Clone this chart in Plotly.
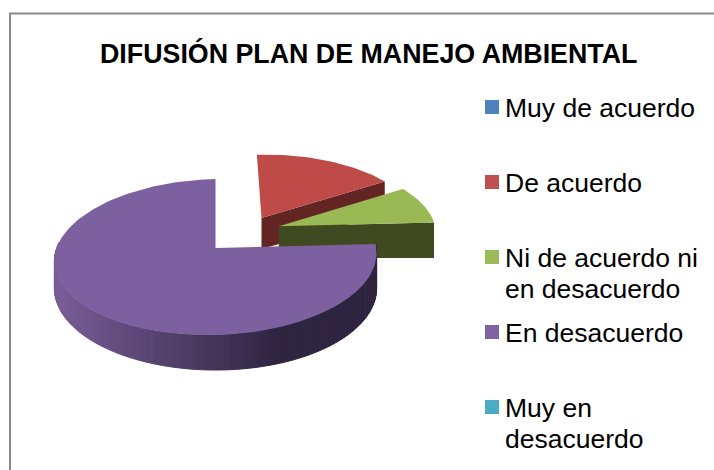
import math
import plotly.graph_objects as go

categories = ["Muy de acuerdo", "De acuerdo", "Ni de acuerdo ni en desacuerdo", "En desacuerdo", "Muy en desacuerdo"]
legend_lines = [["Muy de acuerdo"], ["De acuerdo"], ["Ni de acuerdo ni", "en desacuerdo"], ["En desacuerdo"], ["Muy en", "desacuerdo"]]
values = [0, 2, 1, 9, 0]
pull = [0, 0.492, 0.489, 0, 0]
pull_dir_deg = [0, 37.6, 56.6, 0, 0]
top_colors = ["#4F81BD", "#BE4B48", "#98B954", "#7D60A0", "#4BACC6"]
side_colors = ["#2A4A70", "#632523", "#3F4A21", "#3A2E50", "#25606F"]
legend_colors = ["#4F81BD", "#C0504D", "#9BBB59", "#8064A2", "#4BACC6"]
title = "DIFUSIÓN PLAN DE MANEJO AMBIENTAL"

W, H = 714, 470
CX, CY = 215.5, 248
R, RS, K, DEPTH, SHEAR = 160, 77, 0.115, 31, 0.025
FONT = "Liberation Sans"
LEGEND_SIZE = 26.5
TITLE_SIZE = 26.8


def proj(X, Y, low=False):
    w = 1 + K * Y
    x = CX + R * X / w
    y = CY - RS * Y / w
    if low:
        y += DEPTH / w
    else:
        y -= SHEAR * (x - CX)
    return x, y


def pt(a, r, i):
    d = math.radians(pull_dir_deg[i])
    return (pull[i] * math.sin(d) + r * math.sin(a), pull[i] * math.cos(d) + r * math.cos(a))


def poly(points, color, name=None, edge=0):
    xs = [p[0] for p in points] + [points[0][0]]
    ys = [p[1] for p in points] + [points[0][1]]
    return go.Scatter(x=xs, y=ys, mode="lines", fill="toself", fillcolor=color,
                      line=dict(width=edge, color=color), showlegend=False, name=name, hoverinfo="name")


def mix(a, b, t):
    return "rgb(%d,%d,%d)" % tuple(round(a[i] + (b[i] - a[i]) * t) for i in range(3))


fig = go.Figure()
total = sum(values)
cum = 0
for i, v in enumerate(values):
    start = cum / total * 2 * math.pi
    cum += v
    end = cum / total * 2 * math.pi
    if v == 0:
        continue
    n = max(4, int(v * 20))
    arc = [start + (end - start) * j / n for j in range(n + 1)]
    top = [proj(*pt(a, 1, i)) for a in arc]
    apex = proj(*pt(0, 0, i))
    lapex = proj(*pt(0, 0, i), low=True)
    name = categories[i]
    if i == 3:
        # outer wall: horizontal light-to-dark shading drawn as small facets
        light, dark = (120, 92, 150), (46, 37, 64)
        for j in range(n):
            a0, a1 = arc[j], arc[j + 1]
            if math.cos((a0 + a1) / 2) > 0.12:
                continue
            p = [proj(*pt(a0, 1, i)), proj(*pt(a1, 1, i)),
                 proj(*pt(a1, 1, i), low=True), proj(*pt(a0, 1, i), low=True)]
            t = min(1, max(0, (p[0][0] - 60) / 220))
            fig.add_trace(poly(p, mix(light, dark, t), name, edge=1))
    else:
        edge = proj(*pt(end, 1, i))
        ledge = proj(*pt(end, 1, i), low=True)
        fig.add_trace(poly([apex, edge, ledge, lapex], side_colors[i], name))
    fig.add_trace(poly([apex] + top, top_colors[i], name))

for i, lines in enumerate(legend_lines):
    y = 107 + 75 * i
    fig.add_trace(go.Scatter(x=[492], y=[y], mode="markers", name=categories[i], showlegend=False,
                             marker=dict(symbol="square", size=14, color=legend_colors[i], line=dict(width=0))))
    for k, line in enumerate(lines):
        fig.add_annotation(x=504, y=y + 1 + 31 * k, xref="x", yref="y", xanchor="left", yanchor="middle",
                           text=line, showarrow=False, borderpad=0,
                           font=dict(family=FONT, size=LEGEND_SIZE, color="#000000"))

fig.add_shape(type="rect", xref="x", yref="y", x0=10, y0=13.5, x1=760, y1=520,
              line=dict(color="#8A8A8A", width=2), fillcolor="rgba(0,0,0,0)", layer="below")
fig.add_annotation(x=368.5, y=53, xref="x", yref="y", text="<b>%s</b>" % title, showarrow=False,
                   font=dict(family=FONT, size=TITLE_SIZE, color="#000000"))
fig.update_layout(width=W, height=H, margin=dict(l=0, r=0, t=0, b=0), paper_bgcolor="white",
                  plot_bgcolor="white", showlegend=False,
                  xaxis=dict(range=[0, W], visible=False, fixedrange=True),
                  yaxis=dict(range=[H, 0], visible=False, fixedrange=True))
fig.write_html("out.html", config=dict(displayModeBar=False),
               post_script="document.body.style.margin='0';document.body.style.overflow='hidden';")
